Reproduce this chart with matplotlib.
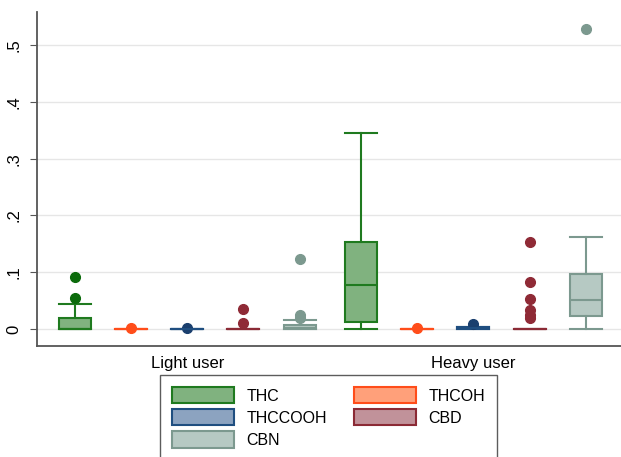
import numpy as np
import matplotlib
matplotlib.use('Agg')
import matplotlib.pyplot as plt
from matplotlib.patches import Patch

plt.rcParams['font.family'] = ['Liberation Sans', 'DejaVu Sans']

groups = ['Light user', 'Heavy user']
compounds = ['THC', 'THCOH', 'THCCOOH', 'CBD', 'CBN']

# box stats: (whislo, q1, med, q3, whishi)
light_stats = [
    (0.0, 0.0, 0.0, 0.019, 0.044),
    (0.0, 0.0, 0.0, 0.0, 0.0),
    (0.0, 0.0, 0.0, 0.0, 0.0),
    (0.0, 0.0, 0.0, 0.0, 0.0),
    (0.0, 0.0, 0.002, 0.007, 0.015),
]
light_fliers = [
    [0.055, 0.092],
    [0.002],
    [0.001],
    [0.01, 0.036],
    [0.02, 0.025, 0.124],
]
heavy_stats = [
    (0.0, 0.012, 0.077, 0.153, 0.345),
    (0.0, 0.0, 0.0, 0.0, 0.0),
    (0.0, 0.0, 0.001, 0.003, 0.003),
    (0.0, 0.0, 0.0, 0.0, 0.0),
    (0.0, 0.022, 0.051, 0.097, 0.162),
]
heavy_fliers = [
    [],
    [0.002],
    [0.009],
    [0.02, 0.025, 0.033, 0.053, 0.083, 0.153],
    [0.528],
]

edge_colors = ['#1f7a1f', '#ff4d1a', '#1f4e80', '#8b2a35', '#7c998f']
fill_colors = ['#80b27f', '#ffa07a', '#8ca3c0', '#c1929a', '#b6c9c3']
dot_colors = ['#0b6b0b', '#ff4d1a', '#1a3f6e', '#8f2a36', '#7c998f']

fig = plt.figure(figsize=(6.21, 4.57), dpi=100)
ax = fig.add_axes([0.0596, 0.243, 0.9404, 0.731])

group_start = [1.0, 6.1]
for g, (stats, fliers) in enumerate([(light_stats, light_fliers), (heavy_stats, heavy_fliers)]):
    for i, (s, fl) in enumerate(zip(stats, fliers)):
        pos = group_start[g] + i
        d = dict(whislo=s[0], q1=s[1], med=s[2], q3=s[3], whishi=s[4], fliers=fl)
        ax.bxp([d], positions=[pos], widths=0.57, patch_artist=True,
               showfliers=True, manage_ticks=False,
               boxprops=dict(facecolor=fill_colors[i], edgecolor=edge_colors[i], linewidth=1.5),
               medianprops=dict(color=edge_colors[i], linewidth=1.5),
               whiskerprops=dict(color=edge_colors[i], linewidth=1.5),
               capprops=dict(color=edge_colors[i], linewidth=1.5),
               capwidths=0.57,
               flierprops=dict(marker='o', markersize=7, markerfacecolor=dot_colors[i],
                               markeredgecolor=dot_colors[i], linestyle='none'))

ax.set_xlim(0.32, 10.73)
ax.set_ylim(-0.03, 0.559)
yt = [0, 0.1, 0.2, 0.3, 0.4, 0.5]
ax.set_yticks(yt)
ax.set_yticklabels(['0', '.1', '.2', '.3', '.4', '.5'], rotation=90, va='center', fontsize=12)
ax.set_xticks([group_start[0] + 2, group_start[1] + 2])
ax.set_xticklabels(groups, fontsize=12)
ax.tick_params(axis='x', length=0, pad=7)
ax.tick_params(axis='y', length=5, color='#555555', pad=6)
ax.yaxis.grid(True, color='#e6e6e6', linewidth=1)
ax.set_axisbelow(True)
for side in ['top', 'right']:
    ax.spines[side].set_visible(False)
for side in ['left', 'bottom']:
    ax.spines[side].set_color('#555555')
    ax.spines[side].set_linewidth(1.3)

# legend is filled column-wise, so order the handles to get THC | THCOH on row one
order = [0, 2, 4, 1, 3]
handles = [Patch(facecolor=fill_colors[k], edgecolor=edge_colors[k], linewidth=1.5, label=compounds[k]) for k in order]
leg = fig.legend(handles=handles, ncol=2, loc='upper center', bbox_to_anchor=(0.529, 0.197),
                 fontsize=11.5, handlelength=3.9, handleheight=1.2, columnspacing=1.7,
                 handletextpad=0.75, labelspacing=0.35, fancybox=False, edgecolor='#333333',
                 borderpad=0.75)
leg.get_frame().set_linewidth(1.0)

fig.savefig('out.png', dpi=100)
